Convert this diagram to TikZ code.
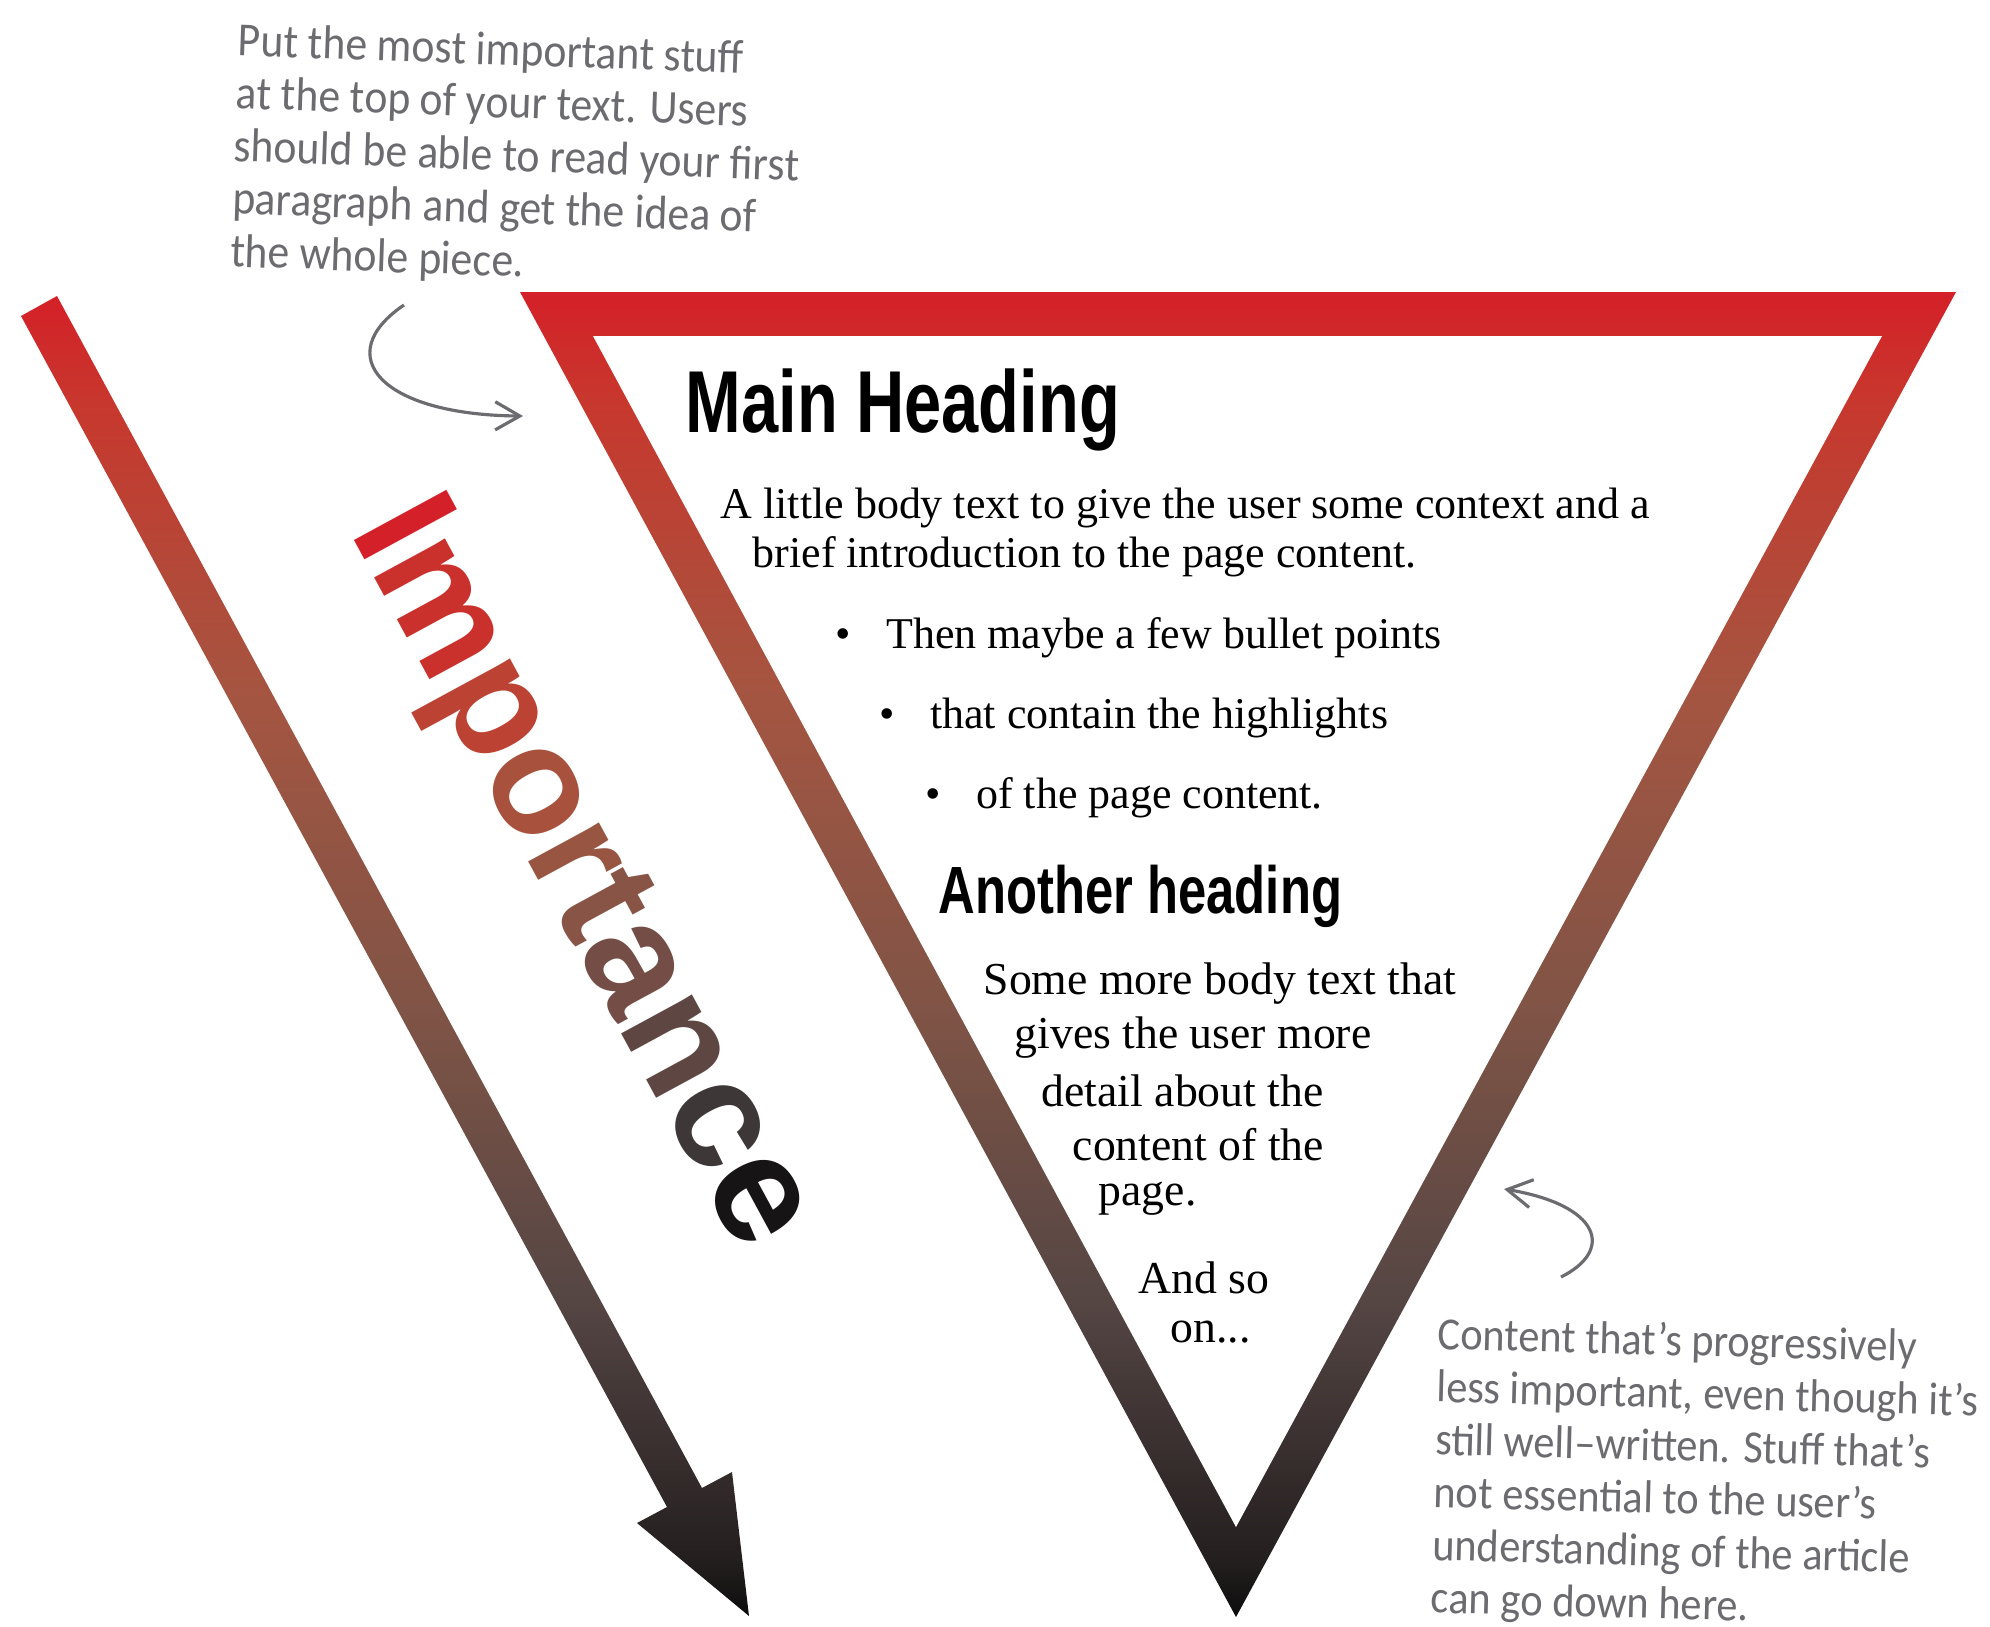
\documentclass[tikz,border=0pt]{standalone}
\usepackage{fontspec}
\setmainfont{Liberation Serif}
\newfontfamily\notefont[FakeStretch=0.92]{Carlito}
\newfontfamily\headfont[FakeStretch=0.76]{Liberation Sans}
\newfontfamily\impfont{Liberation Sans}
\usetikzlibrary{arrows.meta}

% band colours, from the top (red) down to the tip (black)
\definecolor{band0}{RGB}{212,32,40}
\definecolor{band1}{RGB}{200,55,45}
\definecolor{band2}{RGB}{165,85,65}
\definecolor{band3}{RGB}{128,84,70}
\definecolor{band4}{RGB}{85,70,68}
\definecolor{band5}{RGB}{35,30,30}
\definecolor{band6}{RGB}{12,12,12}
\definecolor{notegray}{RGB}{108,108,112}

% one colour per letter of the slanted word
\definecolor{let1}{RGB}{212,32,40}
\definecolor{let2}{RGB}{202,48,44}
\definecolor{let3}{RGB}{188,66,52}
\definecolor{let4}{RGB}{168,82,62}
\definecolor{let5}{RGB}{152,86,66}
\definecolor{let6}{RGB}{136,84,70}
\definecolor{let7}{RGB}{116,78,70}
\definecolor{let8}{RGB}{94,70,66}
\definecolor{let9}{RGB}{62,55,55}
\definecolor{let10}{RGB}{22,20,20}

\pgfdeclareverticalshading{redtoblack}{100bp}{%
  color(0bp)=(band6); color(25bp)=(band6); color(27bp)=(band5);
  color(37bp)=(band4); color(48bp)=(band3); color(60bp)=(band2);
  color(71bp)=(band1); color(75bp)=(band0); color(100bp)=(band0)}

\begin{document}
\begin{tikzpicture}[x=0.01cm, y=-0.01cm,
  note/.style={font={\notefont\fontsize{#1}{15}\selectfont}, text=notegray, align=left, anchor=north west, inner sep=0pt},
  noteline/.style={notegray, line width=0.9pt, -{Straight Barb[length=7pt,width=8pt]}},
  heading/.style={font={\headfont\bfseries\fontsize{#1}{#1}\selectfont}, anchor=base west, inner sep=0pt},
  body/.style={font={\fontsize{12.5}{14}\selectfont}, anchor=west, inner sep=0pt},
  bodywide/.style={font={\fontsize{13}{15}\selectfont}, anchor=west, inner sep=0pt}]

\fill[white] (0,0) rectangle (1990,1626);
\useasboundingbox (0,0) rectangle (1990,1626);

% inverted triangle
\coordinate (outer left) at (520,292);
\coordinate (outer right) at (1956,292);
\coordinate (outer apex) at (1236,1617);
\coordinate (inner left) at (593,336);
\coordinate (inner right) at (1882,336);
\coordinate (inner apex) at (1236,1527);
\shade[shading=redtoblack] (outer left) -- (outer right) -- (outer apex) -- cycle;
\fill[white] (inner left) -- (inner right) -- (inner apex) -- cycle;

% importance arrow
\shade[shading=redtoblack] (21,316) -- (57,296) -- (702,1488) -- (732,1472)
  -- (749,1616) -- (637,1523) -- (667,1507) -- cycle;

% importance label
\node[font={\impfont\bfseries\fontsize{43.5}{43.5}\selectfont}, rotate=-61.5, inner sep=0pt] (importance) at (578,876)
  {\color{let1}I\color{let2}m\color{let3}p\color{let4}o\color{let5}r\color{let6}t\color{let7}a\color{let8}n\color{let9}c\color{let10}e};

% headings
\node[heading=25] (main heading) at (685,432) {Main Heading};
\node[heading=19] (another heading) at (938,913) {Another heading};

% first paragraph and the bullets
\node[body] (intro one) at (720,508) {A little body text to give the user some context and a};
\node[body] (intro two) at (752,557) {brief introduction to the page content.};
\node[body] (bullet one) at (835,638) {\textbullet\hspace{10pt}Then maybe a few bullet points};
\node[body] (bullet two) at (879,718) {\textbullet\hspace{10pt}that contain the highlights};
\node[body] (bullet three) at (925,798) {\textbullet\hspace{10pt}of the page content.};

% second paragraph
\node[bodywide] (more one) at (983,984) {Some more body text that};
\node[bodywide] (more two) at (1014,1038) {gives the user more};
\node[bodywide] (more three) at (1041,1091) {detail about the};
\node[bodywide] (more four) at (1072,1145) {content of the};
\node[bodywide] (more five) at (1098,1199) {page.};
\node[bodywide] (and so) at (1138,1278) {And so};
\node[bodywide] (on) at (1170,1332) {on...};

% notes
\node[note=13.5, rotate=-2] (top note) at (238,22) {Put the most important stuff\\at the top of your text. Users\\should be able to read your first\\paragraph and get the idea of\\the whole piece.};
\node[note=13.1, rotate=-1.5] (bottom note) at (1438,1316) {Content that’s progressively\\less important, even though it’s\\still well–written. Stuff that’s\\not essential to the user’s\\understanding of the article\\can go down here.};

\coordinate (top from) at (404,305);
\coordinate (top to) at (523,416);
\coordinate (bottom from) at (1561,1277);
\coordinate (bottom to) at (1504,1189);
\draw[noteline] (top from) .. controls (330,355) and (380,415) .. (top to);
\draw[noteline] (bottom from) .. controls (1615,1250) and (1600,1205) .. (bottom to);

\end{tikzpicture}
\end{document}
